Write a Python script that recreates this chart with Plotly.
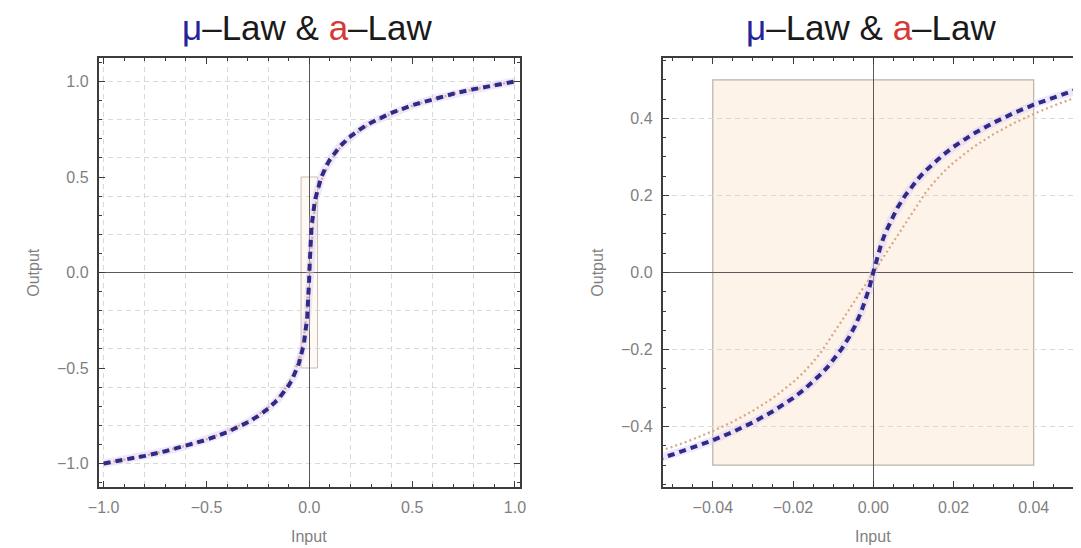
import plotly.graph_objects as go

# ---- data ----
x_input = [-1.0, -0.9, -0.8, -0.7, -0.6, -0.5, -0.4, -0.3, -0.25, -0.2, -0.15, -0.125, -0.1, -0.085,
           -0.07, -0.06, -0.055, -0.05, -0.045, -0.04, -0.035, -0.03, -0.025, -0.0225, -0.02, -0.0175,
           -0.015, -0.013, -0.0114, -0.01, -0.008, -0.006, -0.0045, -0.003, -0.002, -0.001, 0.0,
           0.001, 0.002, 0.003, 0.0045, 0.006, 0.008, 0.01, 0.0114, 0.013, 0.015, 0.0175, 0.02, 0.0225,
           0.025, 0.03, 0.035, 0.04, 0.045, 0.05, 0.055, 0.06, 0.07, 0.085, 0.1, 0.125, 0.15, 0.2, 0.25,
           0.3, 0.4, 0.5, 0.6, 0.7, 0.8, 0.9, 1.0]

mu_law_output = [-1.0, -0.98107, -0.95993, -0.93598, -0.90835, -0.87570, -0.83581, -0.78451, -0.75210,
                 -0.71256, -0.66183, -0.62986, -0.59099, -0.56288, -0.52956, -0.50335, -0.48866, -0.47267,
                 -0.45512, -0.43568, -0.41388, -0.38909, -0.36033, -0.34403, -0.32610, -0.30619, -0.28382,
                 -0.26367, -0.24576, -0.22848, -0.20051, -0.16739, -0.13783, -0.10246, -0.07432, -0.04096,
                 0.0,
                 0.04096, 0.07432, 0.10246, 0.13783, 0.16739, 0.20051, 0.22848, 0.24576, 0.26367, 0.28382,
                 0.30619, 0.32610, 0.34403, 0.36033, 0.38909, 0.41388, 0.43568, 0.45512, 0.47267, 0.48866,
                 0.50335, 0.52956, 0.56288, 0.59099, 0.62986, 0.66183, 0.71256, 0.75210, 0.78451, 0.83581,
                 0.87570, 0.90835, 0.93598, 0.95993, 0.98107, 1.0]

a_law_output = [-1.0, -0.98075, -0.95923, -0.93482, -0.90666, -0.87334, -0.83257, -0.78000, -0.74669,
                -0.70592, -0.65336, -0.62004, -0.57927, -0.54957, -0.51410, -0.48593, -0.47003, -0.45261,
                -0.43336, -0.41184, -0.38744, -0.35928, -0.32596, -0.30671, -0.28519, -0.26079, -0.23262,
                -0.20647, -0.18248, -0.16007, -0.12805, -0.09604, -0.07203, -0.04802, -0.03201, -0.01601,
                0.0,
                0.01601, 0.03201, 0.04802, 0.07203, 0.09604, 0.12805, 0.16007, 0.18248, 0.20647, 0.23262,
                0.26079, 0.28519, 0.30671, 0.32596, 0.35928, 0.38744, 0.41184, 0.43336, 0.45261, 0.47003,
                0.48593, 0.51410, 0.54957, 0.57927, 0.62004, 0.65336, 0.70592, 0.74669, 0.78000, 0.83257,
                0.87334, 0.90666, 0.93482, 0.95923, 0.98075, 1.0]

# zoom window shown in the right panel (x0, x1, y0, y1)
zoom_box = [-0.04, 0.04, -0.5, 0.5]

title_text = ('<span style="color:#25249a">μ</span>–Law &amp; '
              '<span style="color:#d63a36">a</span>–Law')
x_label = "Input"
y_label = "Output"

# ---- geometry (page body adds an 8px offset) ----
W, H = 1073, 540
left_dom = [81 / W, 509 / W]
right_dom = [654 / W, 1.0]
y_dom = [1 - 479 / H, 1 - 50 / H]

left_xr = [-1.024, 1.024]
left_yr = [-1.123, 1.123]
right_xr = [-0.0525, 0.0503]
right_yr = [-0.557, 0.557]

FONT = "Liberation Sans, Arial, sans-serif"
FRAME = "#3c3c3c"
GRID = "#d9d9d9"
TICKFONT = dict(family=FONT, size=16, color="#7f7f7f")

fig = go.Figure()

def add_curves(xa, ya):
    # soft halo around the mu-law curve
    fig.add_trace(go.Scatter(x=x_input, y=mu_law_output, mode="lines", xaxis=xa, yaxis=ya,
                             line=dict(color="rgba(220,205,250,0.45)", width=8),
                             hoverinfo="skip", showlegend=False))
    fig.add_trace(go.Scatter(x=x_input, y=a_law_output, mode="lines", xaxis=xa, yaxis=ya,
                             name="a-Law", line=dict(color="#d8a684", width=2.2, dash="2px,3px"),
                             showlegend=False))
    fig.add_trace(go.Scatter(x=x_input, y=mu_law_output, mode="lines", xaxis=xa, yaxis=ya,
                             name="μ-Law", line=dict(color="#2f2a86", width=4, dash="7px,5px"),
                             showlegend=False))

add_curves("x", "y")
add_curves("x2", "y2")

# invisible trace hosting the left-panel grid axes
fig.add_trace(go.Scatter(x=[None], y=[None], xaxis="x3", yaxis="y3", mode="lines",
                         hoverinfo="skip", showlegend=False))

main_axis = dict(showline=True, linecolor=FRAME, linewidth=1.8, mirror="ticks",
                 ticks="inside", ticklen=6, tickwidth=1, tickcolor=FRAME,
                 tickfont=TICKFONT, showgrid=False, ticklabelstandoff=5,
                 zeroline=True, zerolinecolor="#5a5a5a", zerolinewidth=1.2)

fig.update_layout(
    width=W, height=H,
    margin=dict(l=0, r=0, t=0, b=0),
    paper_bgcolor="white", plot_bgcolor="white",
    xaxis=dict(main_axis, domain=left_dom, anchor="y", range=left_xr, dtick=0.5, tick0=0,
               tickformat=".1f", minor=dict(dtick=0.1, ticks="inside", ticklen=3.5, tickcolor=FRAME)),
    yaxis=dict(main_axis, domain=y_dom, anchor="x", range=left_yr, dtick=0.5, tick0=0,
               tickformat=".1f", minor=dict(dtick=0.1, ticks="inside", ticklen=3.5, tickcolor=FRAME)),
    xaxis3=dict(overlaying="x", anchor="y3", range=left_xr, dtick=0.2, tick0=0, showgrid=True,
                gridcolor=GRID, griddash="5px,4px", gridwidth=1, showticklabels=False, ticks="",
                showline=False, zeroline=False),
    yaxis3=dict(overlaying="y", anchor="x3", range=left_yr, dtick=0.2, tick0=0, showgrid=True,
                gridcolor=GRID, griddash="5px,4px", gridwidth=1, showticklabels=False, ticks="",
                showline=False, zeroline=False),
    xaxis2=dict(main_axis, domain=right_dom, anchor="y2", range=right_xr, dtick=0.02, tick0=0,
                tickformat=".2f", minor=dict(dtick=0.005, ticks="inside", ticklen=3.5, tickcolor=FRAME)),
    yaxis2=dict(main_axis, domain=y_dom, anchor="x2", range=right_yr, dtick=0.2, tick0=0,
                tickformat=".1f", mirror=False, showgrid=True, gridcolor=GRID,
                griddash="5px,4px", gridwidth=1,
                minor=dict(dtick=0.05, ticks="inside", ticklen=3.5, tickcolor=FRAME)),
)

# zoom rectangles (below grid)
fig.add_shape(type="rect", xref="x", yref="y", x0=zoom_box[0], x1=zoom_box[1],
              y0=zoom_box[2], y1=zoom_box[3], layer="below",
              fillcolor="rgba(252,236,220,0.3)", line=dict(color="#c9bcae", width=1))
fig.add_shape(type="rect", xref="x2", yref="y2", x0=zoom_box[0], x1=zoom_box[1],
              y0=zoom_box[2], y1=zoom_box[3], layer="below",
              fillcolor="#fdf3e8", line=dict(color="#bab2aa", width=1.2))

# titles and axis labels
left_cx = 293 / W
right_cx = 866 / W
for cx in (left_cx, right_cx):
    fig.add_annotation(text=title_text, xref="paper", yref="paper", x=cx, y=1 - 20 / H,
                       showarrow=False, font=dict(family=FONT, size=35, color="#1a1a1a"),
                       xanchor="center", yanchor="middle")
for cx in (295 / W, 868 / W):
    fig.add_annotation(text=x_label, xref="paper", yref="paper", x=cx, y=1 - 528 / H,
                       showarrow=False, font=dict(family=FONT, size=16, color="#7f7f7f"),
                       xanchor="center", yanchor="middle")

for xl in (14 / W, 587 / W):
    fig.add_annotation(text=y_label, xref="paper", yref="paper", x=xl, y=1 - 264 / H,
                       showarrow=False, textangle=-90,
                       font=dict(family=FONT, size=16, color="#7f7f7f"),
                       xanchor="center", yanchor="middle")

fig.write_html("out.html")
